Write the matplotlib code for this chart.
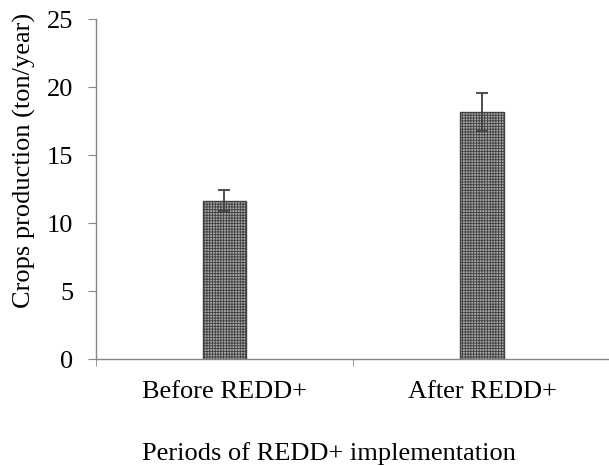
import matplotlib.pyplot as plt

# values
periods = ['Before REDD+', 'After REDD+']
production = [11.64, 18.16]
errors = [0.76, 1.41]

plt.rcParams['font.family'] = ['Liberation Serif', 'DejaVu Serif']
plt.rcParams['hatch.color'] = '#3a3a3a'
plt.rcParams['hatch.linewidth'] = 0.6

fig = plt.figure(figsize=(6.09, 4.66), dpi=100)
ax = fig.add_axes([0.157, 0.2296, 0.846, 0.7296])

x = range(len(periods))
ax.bar(x, production, width=0.17, color='#a6a6a6', edgecolor='#404040',
       linewidth=1.0, hatch='++++++')
ax.errorbar(x, production, yerr=errors, fmt='none', ecolor='#404040',
            elinewidth=1.3, capsize=4.5, capthick=1.3)

ax.set_xlim(-0.5, 1.5)
ax.set_ylim(0, 25)
ax.set_yticks([0, 5, 10, 15, 20, 25])
ax.set_xticks(list(x))
ax.set_xticklabels(periods)
ax.set_xticks([-0.5, 0.5, 1.5], minor=True)

for side in ['top', 'right']:
    ax.spines[side].set_visible(False)
for side in ['left', 'bottom']:
    ax.spines[side].set_color('#868686')
    ax.spines[side].set_linewidth(1.0)

ax.tick_params(axis='y', direction='out', length=6, color='#868686',
               labelsize=19, pad=10)
ax.tick_params(axis='x', which='major', length=0, labelsize=19, pad=16)
ax.tick_params(axis='x', which='minor', direction='out', length=5,
               color='#868686')

fig.text(24 / 609, 1 - 160 / 466, 'Crops production (ton/year)',
         rotation=90, ha='center', va='center', fontsize=19)
fig.text(329 / 609, 1 - 460 / 466, 'Periods of REDD+ implementation',
         ha='center', va='baseline', fontsize=19)

fig.savefig('out.png', dpi=100)
